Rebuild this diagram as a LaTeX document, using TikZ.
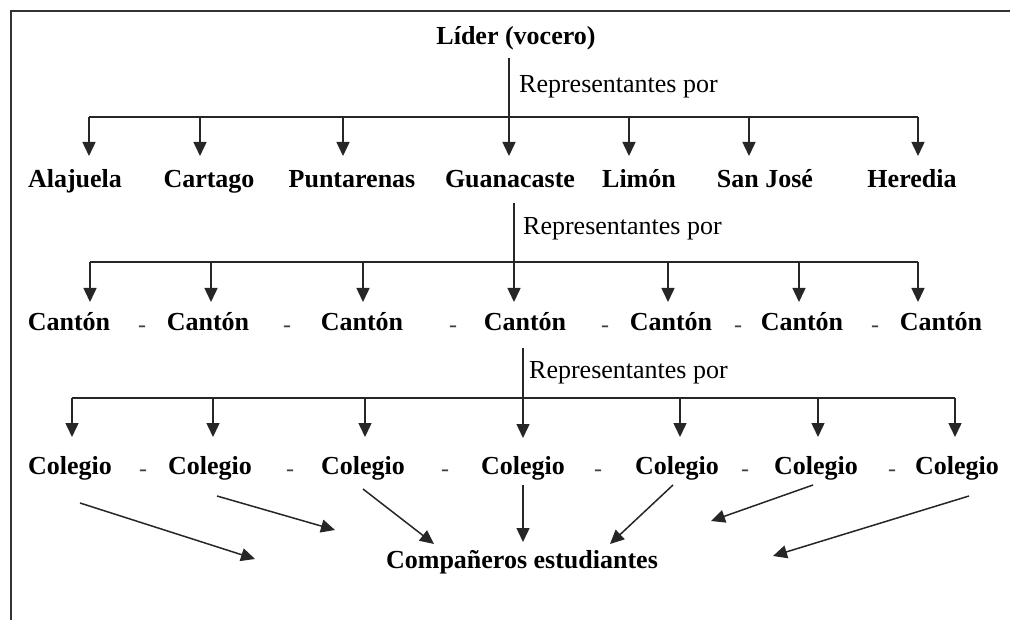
\documentclass[tikz,border=0pt]{standalone}
\usepackage{fontspec}
\setmainfont{Liberation Serif}
\usetikzlibrary{arrows.meta}
\begin{document}
\begin{tikzpicture}[x=1pt,y=-1pt,
  lbl/.style={font=\fontsize{26}{30}\selectfont\bfseries, anchor=base, inner sep=0pt},
  dsh/.style={font=\fontsize{24}{30}\selectfont, anchor=base, inner sep=0pt, text=black!75},
  rep/.style={font=\fontsize{26}{30}\selectfont, anchor=base west, inner sep=0pt},
  ln/.style={line width=1.5pt, draw=black!85},
  arr/.style={ln, -{Triangle[length=14pt,width=13pt]}, fill=black!85},
  frame/.style={line width=2.6pt, draw=black!80}
]
\useasboundingbox (0,0) rectangle (1010,620);
\draw[frame] (1010,11) -- (11,11) -- (11,620);

% ---- level 0
\node[lbl] (lider) at (516,45) {Líder (vocero)};
\coordinate (t1s) at (509,58);
\coordinate (t1e) at (509,156);
\draw[arr] (t1s) -- (t1e);
\node[rep] (rep1) at (519,93) {Representantes por};
\coordinate (b1l) at (89,117);
\coordinate (b1r) at (918,117);
\draw[ln] (b1l) -- (b1r);
\foreach \x/\n in {89/a,200/b,343/c,629/e,749/f,918/g}{
  \coordinate (p1\n) at (\x,117);
  \coordinate (q1\n) at (\x,156);
  \draw[arr] (p1\n) -- (q1\n);
}
\foreach \x/\n/\t in {75/a/Alajuela,209/b/Cartago,352/c/Puntarenas,510/d/Guanacaste,639/e/Limón,765/f/San José,912/g/Heredia}{
  \node[lbl] (r1\n) at (\x,188) {\t};
}

% ---- level 1
\coordinate (t2s) at (514,203);
\coordinate (t2e) at (514,302);
\draw[arr] (t2s) -- (t2e);
\node[rep] (rep2) at (523,235) {Representantes por};
\coordinate (b2l) at (90,262);
\coordinate (b2r) at (918,262);
\draw[ln] (b2l) -- (b2r);
\foreach \x/\n in {90/a,211/b,363/c,668/e,799/f,918/g}{
  \coordinate (p2\n) at (\x,262);
  \coordinate (q2\n) at (\x,302);
  \draw[arr] (p2\n) -- (q2\n);
}
\foreach \x/\n in {69/a,208/b,362/c,525/d,671/e,802/f,941/g}{
  \node[lbl] (r2\n) at (\x,331) {Cantón};
}
\foreach \x/\n in {142/a,287/b,453/c,605/d,738/e,875/f}{
  \node[dsh] (d2\n) at (\x,333) {-};
}

% ---- level 2
\coordinate (t3s) at (523,348);
\coordinate (t3e) at (523,438);
\draw[arr] (t3s) -- (t3e);
\node[rep] (rep3) at (529,379) {Representantes por};
\coordinate (b3l) at (72,398);
\coordinate (b3r) at (955,398);
\draw[ln] (b3l) -- (b3r);
\foreach \x/\n in {72/a,213/b,365/c,680/e,818/f,955/g}{
  \coordinate (p3\n) at (\x,398);
  \coordinate (q3\n) at (\x,437);
  \draw[arr] (p3\n) -- (q3\n);
}
\foreach \x/\n in {70/a,210/b,363/c,523/d,677/e,816/f,957/g}{
  \node[lbl] (r3\n) at (\x,474) {Colegio};
}
\foreach \x/\n in {143/a,290/b,445/c,598/d,745/e,892/f}{
  \node[dsh] (d3\n) at (\x,476) {-};
}

% ---- bottom
\node[lbl] (comp) at (522,568) {Compañeros estudiantes};
\foreach \n/\sx/\sy/\ex/\ey in {a/80/503/255/559, b/217/496/335/530, c/363/489/434/544, d/523/485/523/542, e/673/485/610/544, f/813/485/711/521, g/969/496/773/556}{
  \coordinate (s\n) at (\sx,\sy);
  \coordinate (e\n) at (\ex,\ey);
  \draw[arr] (s\n) -- (e\n);
}
\end{tikzpicture}
\end{document}
